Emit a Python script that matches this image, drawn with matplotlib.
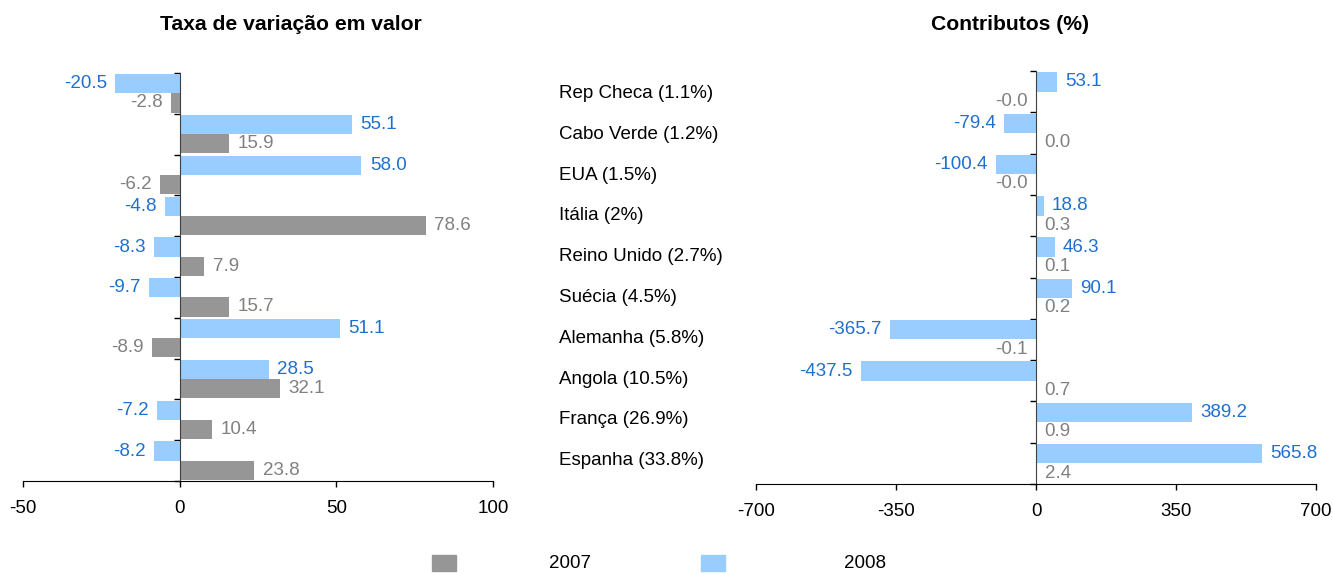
import matplotlib

matplotlib.use("Agg")
import matplotlib.pyplot as plt
from matplotlib.patches import Rectangle
from matplotlib.transforms import blended_transform_factory
import numpy as np

plt.rcParams["font.family"] = ["Liberation Sans", "DejaVu Sans"]

countries = [
    "Rep Checa (1.1%)", "Cabo Verde (1.2%)", "EUA (1.5%)", "Itália (2%)",
    "Reino Unido (2.7%)", "Suécia (4.5%)", "Alemanha (5.8%)", "Angola (10.5%)",
    "França (26.9%)", "Espanha (33.8%)",
]
taxa_2007 = [-2.8, 15.9, -6.2, 78.6, 7.9, 15.7, -8.9, 32.1, 10.4, 23.8]
taxa_2008 = [-20.5, 55.1, 58.0, -4.8, -8.3, -9.7, 51.1, 28.5, -7.2, -8.2]
contrib_2007 = [-0.0, 0.0, -0.0, 0.3, 0.1, 0.2, -0.1, 0.7, 0.9, 2.4]
contrib_2007_sign = [-1, 1, -1, 1, 1, 1, -1, 1, 1, 1]  # sign of the unrounded value
contrib_2008 = [53.1, -79.4, -100.4, 18.8, 46.3, 90.1, -365.7, -437.5, 389.2, 565.8]

GREY = "#969696"
BLUE = "#99ccff"
GREY_TXT = "#808080"
BLUE_TXT = "#1f6fcf"
FS = 13.5

W, H = 1333, 573
fig = plt.figure(figsize=(W / 100, H / 100), dpi=100)


def px_axes(x0, y0, x1, y1):
    return fig.add_axes([x0 / W, 1 - y1 / H, (x1 - x0) / W, (y1 - y0) / H])


def draw(ax, v07, v08, xlim, xticks, pad, signs=None):
    n = len(v07)
    y = np.arange(n)
    h = 0.47
    for s in ("top", "right"):
        ax.spines[s].set_visible(False)
    ax.spines["left"].set_position(("data", 0))
    ax.spines["left"].set_color("#404040")

    ax.barh(y - h / 2, v08, height=h, color=BLUE, zorder=2)
    ax.barh(y + h / 2, v07, height=h, color=GREY, zorder=2)
    ax.set_xlim(*xlim)
    ax.set_ylim(n - 0.5, -0.5)
    ax.set_xticks(xticks)
    ax.set_xticklabels([str(t) for t in xticks], fontsize=FS)
    ax.tick_params(axis="x", direction="out", length=4.5, width=1, pad=9)
    ax.set_yticks(np.arange(n + 1) - 0.5)
    ax.set_yticklabels([])
    ax.tick_params(axis="y", direction="out", length=4, width=1)

    def label(val, yy, color, sgn):
        neg = sgn < 0
        txt = "-0.0" if (neg and val == 0) else f"{val:.1f}"
        ax.annotate(txt, (val, yy), xytext=(-pad if neg else pad, 0),
                    textcoords="offset points", va="center",
                    ha="right" if neg else "left", color=color, fontsize=FS)

    for i in range(n):
        label(v08[i], i - h / 2, BLUE_TXT, np.sign(v08[i]))
        sg = signs[i] if signs is not None else np.sign(v07[i])
        label(v07[i], i + h / 2, GREY_TXT, sg)


ax1 = px_axes(23, 73, 493, 481)
draw(ax1, taxa_2007, taxa_2008, (-50, 100), [-50, 0, 50, 100], 6)

ax2 = px_axes(756, 71, 1316, 484)
draw(ax2, contrib_2007, contrib_2008, (-700, 700), [-700, -350, 0, 350, 700], 6,
     signs=contrib_2007_sign)

tr = blended_transform_factory(fig.transFigure, ax1.transData)
for i, c in enumerate(countries):
    ax1.text(559 / W, i, c, transform=tr, ha="left", va="center", fontsize=FS,
             clip_on=False)

fig.text(291 / W, 1 - 24 / H, "Taxa de variação em valor", ha="center",
         va="center", fontsize=15.2, fontweight="bold")
fig.text(1010 / W, 1 - 24 / H, "Contributos (%)", ha="center", va="center",
         fontsize=15.2, fontweight="bold")

# legend
for x0, color, txt, tx in [(432, GREY, "2007", 570), (701, BLUE, "2008", 865)]:
    fig.patches.append(Rectangle((x0 / W, 1 - 571 / H), 24 / W, 16 / H,
                                 transform=fig.transFigure, color=color))
    fig.text(tx / W, 1 - 564 / H, txt, ha="center", va="center", fontsize=FS)

fig.savefig("out.png", dpi=100)
